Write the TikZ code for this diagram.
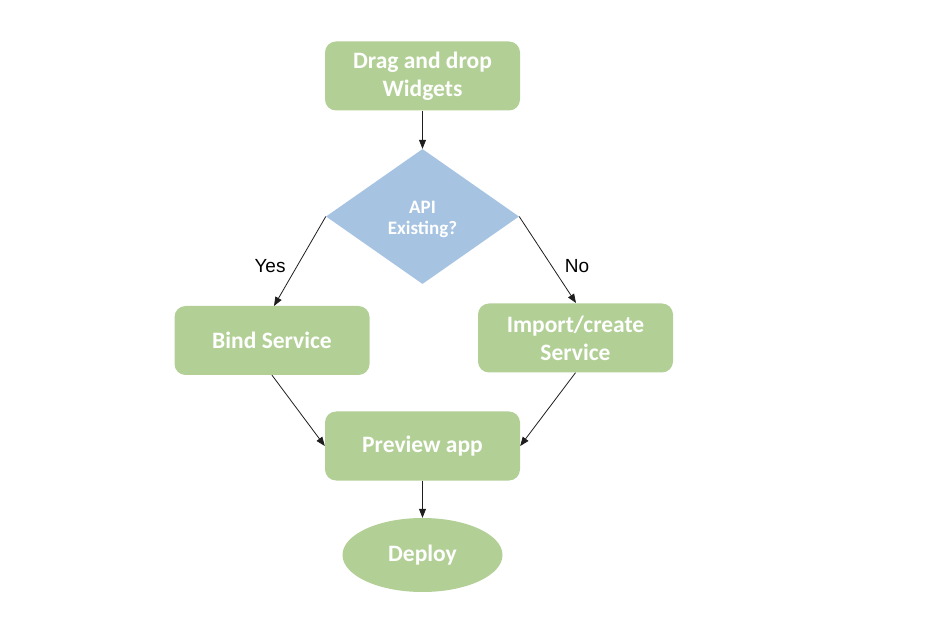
\documentclass[tikz,border=0pt]{standalone}
\usepackage{fontspec}
\setmainfont{Carlito}
\newfontfamily\labelfont{Liberation Sans}
\usetikzlibrary{shapes.geometric,arrows.meta}
\definecolor{boxgreen}{RGB}{178,208,150}
\definecolor{diablue}{RGB}{166,195,226}
\definecolor{linegray}{RGB}{30,30,30}
\tikzset{
  procbox/.style={draw=none, fill=boxgreen, rounded corners=11pt, minimum width=195pt, minimum height=69pt,
    align=center, text=white, font=\bfseries\fontsize{23.5}{28}\selectfont, inner sep=0pt},
  decision/.style={draw=none, fill=diablue, diamond, minimum width=193pt, minimum height=135pt, inner sep=0pt,
    align=center, text=white, font=\bfseries\fontsize{19}{21}\selectfont},
  terminal/.style={draw=none, fill=boxgreen, ellipse, minimum width=160pt, minimum height=74pt, inner sep=0pt,
    text=white, font=\bfseries\fontsize{23.5}{28}\selectfont},
  conn/.style={draw=linegray, line width=0.8pt, -{Triangle[length=9pt,width=7pt]}},
  lbl/.style={font=\labelfont\fontsize{19}{22}\selectfont, text=black}
}
\begin{document}
\begin{tikzpicture}[x=1pt,y=-1pt]
\useasboundingbox (0,0) rectangle (946,620);
\node[procbox] (drag) at (422.5,76) {Drag and drop\\Widgets};
\node[decision] (api) at (422.5,216.5) {};
\node[align=center, text=white, font=\bfseries\fontsize{19}{21}\selectfont, inner sep=0pt] (apitext) at (422.5,219) {API\\Existing?};
\node[procbox] (bind) at (272,340.5) {Bind Service};
\node[procbox] (imp) at (575.5,338) {Import/create\\Service};
\node[procbox] (prev) at (422.5,446) {Preview app};
\node[terminal] (dep) at (422.5,555) {Deploy};
\coordinate (bindtop) at (274,306);
\coordinate (imptop) at (576,303);
\draw[conn] (drag.south) -- (api.north);
\draw[conn] (api.west) -- (bindtop);
\draw[conn] (api.east) -- (imptop);
\draw[conn] (bind.south) -- (prev.west);
\draw[conn] (imp.south) -- (prev.east);
\draw[conn] (prev.south) -- (dep.north);
\node[lbl] (yes) at (270,266) {Yes};
\node[lbl] (no) at (577,266) {No};
\end{tikzpicture}
\end{document}
